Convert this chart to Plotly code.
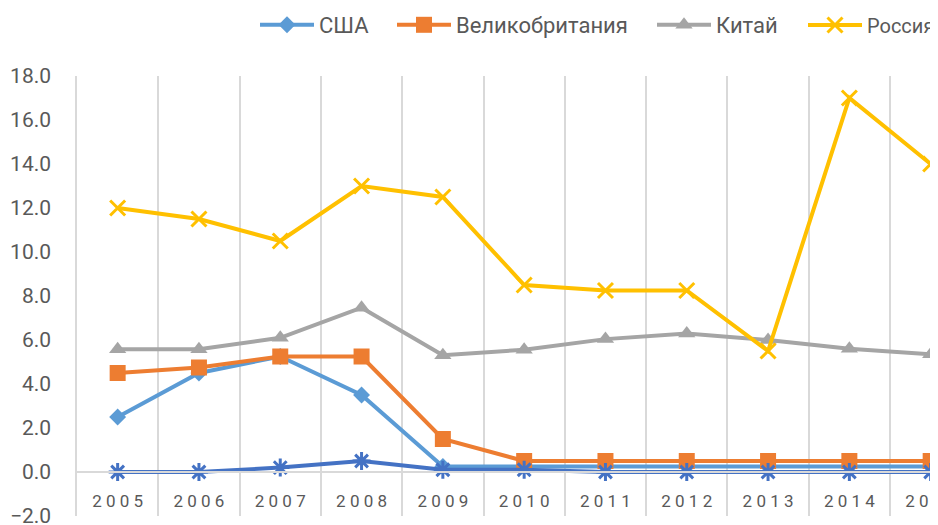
import plotly.graph_objects as go

years = ["2005", "2006", "2007", "2008", "2009", "2010", "2011", "2012", "2013", "2014", "2015"]
usa = [2.5, 4.5, 5.25, 3.5, 0.25, 0.25, 0.25, 0.25, 0.25, 0.25, 0.25]
uk = [4.5, 4.75, 5.25, 5.25, 1.5, 0.5, 0.5, 0.5, 0.5, 0.5, 0.5]
china = [5.58, 5.58, 6.1, 7.47, 5.31, 5.56, 6.04, 6.3, 6.0, 5.6, 5.35]
russia = [12.0, 11.5, 10.5, 13.0, 12.5, 8.5, 8.25, 8.25, 5.5, 17.0, 14.0]
japan = [0.0, 0.0, 0.2, 0.5, 0.1, 0.1, 0.0, 0.0, 0.0, 0.0, 0.0]

x = list(range(len(years)))
tick_text = [" ".join(y) for y in years]

FONT = "Roboto"
TXT = "#595959"

fig = go.Figure()

def add(name, vals, color, symbol, size, legend=None, open_marker=False):
    marker = dict(symbol=symbol, size=size, color=color)
    if open_marker:
        marker["line"] = dict(color=color, width=3)
    fig.add_trace(go.Scatter(
        x=x, y=vals, name=name, mode="lines+markers",
        line=dict(color=color, width=4),
        marker=marker, showlegend=legend is not None,
        legend=legend if legend else "legend",
    ))

add("США", usa, "#5B9BD5", "diamond", 13, legend="legend")
add("Великобритания", uk, "#ED7D31", "square", 16, legend="legend2")
add("Китай", china, "#A5A5A5", "triangle-up", 15, legend="legend3")
add("Россия", russia, "#FFC000", "x-thin-open", 15, legend="legend4", open_marker=True)
add("Япония", japan, "#4472C4", "asterisk-open", 15, legend=None, open_marker=True)

W, H = 946, 525

def leg(px, size=22, iw=54):
    return dict(orientation="h", xref="container", yref="container",
                x=px / W, xanchor="left", y=1 - 17 / H, yanchor="middle",
                itemwidth=iw, bgcolor="rgba(0,0,0,0)",
                font=dict(family=FONT, size=size, color=TXT))

fig.update_layout(
    width=W, height=H,
    margin=dict(l=69, r=0, t=68, b=17, autoexpand=False),
    paper_bgcolor="white", plot_bgcolor="white",
    font=dict(family=FONT, color=TXT, size=17),
    legend=leg(247), legend2=leg(384), legend3=leg(644), legend4=leg(795, 20),
    xaxis=dict(
        range=[-0.5, 10.287], tickmode="array", tickvals=x, ticktext=tick_text,
        showgrid=False, zeroline=False, anchor="free", position=2 / 20,
        showline=True, linecolor="#D9D9D9", linewidth=1.5, ticks="",
        ticklabelstandoff=14, ticklabeloverflow="allow", automargin=False,
        tickfont=dict(family=FONT, size=17, color=TXT),
        minor=dict(tickmode="array", tickvals=[i - 0.5 for i in range(12)],
                   showgrid=True, gridcolor="#D9D9D9", gridwidth=1.5, ticks=""),
    ),
    yaxis=dict(
        range=[-2, 18], tickmode="linear", tick0=-2, dtick=2, tickformat=".1f",
        showgrid=False, zeroline=False, showline=True, linecolor="#D9D9D9",
        linewidth=1.5, ticks="", ticklabelstandoff=20, automargin=False,
        tickfont=dict(family=FONT, size=21, color=TXT),
    ),
)

fig.write_html("out.html")
